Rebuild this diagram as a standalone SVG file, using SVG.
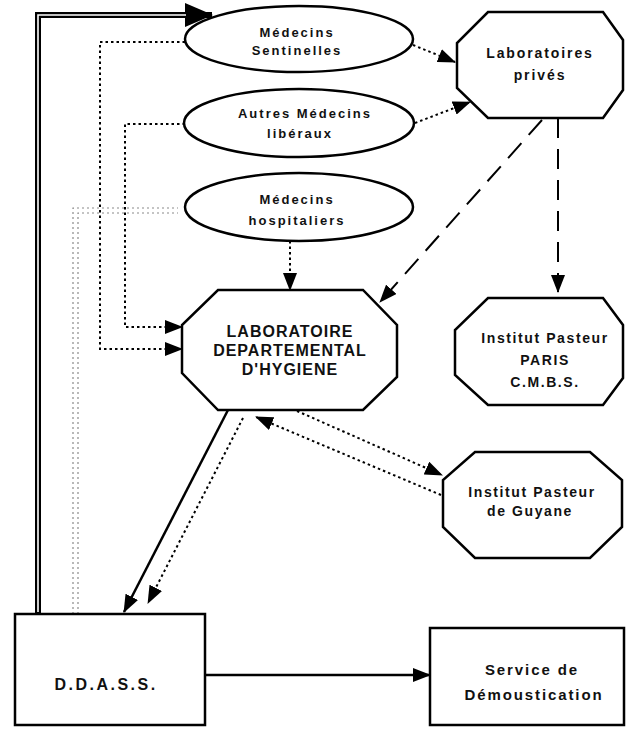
<svg xmlns="http://www.w3.org/2000/svg" width="627" height="736" viewBox="0 0 627 736">
<style>
.shape{fill:#fff;stroke:#000;stroke-width:2.5}
.t{font-family:"Liberation Sans",Arial,sans-serif;font-weight:bold;fill:#111;text-anchor:middle}
.e{font-size:13px;letter-spacing:2px}
.lp{font-size:14px;letter-spacing:1.9px}
.ldh{font-size:16px;letter-spacing:1px}
.ip{font-size:14px;letter-spacing:1.6px}
.dd{font-size:16px;letter-spacing:2.5px}
.sv{font-size:15px;letter-spacing:1.9px}
.dot{fill:none;stroke:#000;stroke-width:2;stroke-dasharray:2.5 3}
.dash{fill:none;stroke:#000;stroke-width:2;stroke-dasharray:20 11}
.solid{fill:none;stroke:#000;stroke-width:2.5}
.grey{fill:none;stroke:#8a8a8a;stroke-width:1.2;stroke-dasharray:2 3}
</style>
<defs>
<marker id="ah" markerUnits="userSpaceOnUse" markerWidth="18" markerHeight="14" refX="17" refY="7" orient="auto" viewBox="0 0 18 14"><path d="M0,0 L18,7 L0,14 z" fill="#000"/></marker>
<marker id="big" markerUnits="userSpaceOnUse" markerWidth="28" markerHeight="24" refX="27" refY="12" orient="auto" viewBox="0 0 28 24"><path d="M0,0 L28,12 L0,24 z" fill="#000"/></marker>
</defs>
<rect width="627" height="736" fill="#fff"/>

<g id="connectors">
  <path d="M38,614 V15 H212" fill="none" stroke="#000" stroke-width="6" marker-end="url(#big)"/>
  <path d="M38,612 V15 H186" fill="none" stroke="#fff" stroke-width="1.6"/>
  <path class="grey" d="M73,614 V208 H178"/>
  <path class="grey" d="M78,614 V213 H178"/>
  <path class="dot" d="M185,42 H100 V349 H182" marker-end="url(#ah)"/>
  <path class="dot" d="M185,124 H125 V327 H182" marker-end="url(#ah)"/>
  <path class="dot" d="M290,241 V290" marker-end="url(#ah)"/>
  <path class="dot" d="M413,45 L455,62" marker-end="url(#ah)"/>
  <path class="dot" d="M415,123 L470,102" marker-end="url(#ah)"/>
  <path class="dash" d="M542,120 L380,302" marker-end="url(#ah)"/>
  <path class="dash" d="M558,118 V292" marker-end="url(#ah)"/>
  <path class="dot" d="M297,411 L442,475" marker-end="url(#ah)"/>
  <path class="dot" d="M441,495 L256,417" marker-end="url(#ah)"/>
  <path class="solid" d="M228,410 L124,612" marker-end="url(#ah)"/>
  <path class="dot" d="M243,418 L148,603" marker-end="url(#ah)"/>
  <path class="solid" d="M205,675 H430" marker-end="url(#ah)"/>
</g>

<g id="medecins-sentinelles">
  <ellipse class="shape" cx="299" cy="39" rx="114" ry="33"/>
  <text class="t e" x="297" y="37">Médecins</text>
  <text class="t e" x="297" y="55">Sentinelles</text>
</g>
<g id="autres-medecins">
  <ellipse class="shape" cx="299" cy="123" rx="115" ry="34"/>
  <text class="t e" x="305" y="118">Autres Médecins</text>
  <text class="t e" x="300" y="138">libéraux</text>
</g>
<g id="medecins-hospitaliers">
  <ellipse class="shape" cx="299" cy="207" rx="114" ry="34"/>
  <text class="t e" x="297" y="204">Médecins</text>
  <text class="t e" x="297" y="225">hospitaliers</text>
</g>
<g id="laboratoires-prives">
  <polygon class="shape" points="488,12 603,12 623,40 623,90 603,118 488,118 457,88 457,43"/>
  <text class="t lp" x="540" y="58">Laboratoires</text>
  <text class="t lp" x="540" y="80">privés</text>
</g>
<g id="laboratoire-departemental">
  <polygon class="shape" points="218,290 363,290 397,325 397,377 363,410 218,410 182,373 182,325"/>
  <text class="t ldh" x="290" y="337">LABORATOIRE</text>
  <text class="t ldh" x="290" y="356">DEPARTEMENTAL</text>
  <text class="t ldh" x="290" y="375">D'HYGIENE</text>
</g>
<g id="institut-pasteur-paris">
  <polygon class="shape" points="488,298 603,298 623,325 623,378 603,405 488,405 455,375 455,330"/>
  <text class="t ip" x="545" y="343">Institut Pasteur</text>
  <text class="t ip" x="545" y="365">PARIS</text>
  <text class="t ip" x="545" y="387">C.M.B.S.</text>
</g>
<g id="institut-pasteur-guyane">
  <polygon class="shape" points="475,452 590,452 622,480 622,527 590,558 475,558 443,527 443,480"/>
  <text class="t ip" x="532" y="497">Institut Pasteur</text>
  <text class="t ip" x="530" y="516">de Guyane</text>
</g>
<g id="ddass">
  <rect class="shape" x="15" y="614" width="190" height="111"/>
  <text class="t dd" x="106" y="690">D.D.A.S.S.</text>
</g>
<g id="service-demoustication">
  <rect class="shape" x="430" y="628" width="194" height="97"/>
  <text class="t sv" x="532" y="675">Service de</text>
  <text class="t sv" x="534" y="700">Démoustication</text>
</g>
</svg>
